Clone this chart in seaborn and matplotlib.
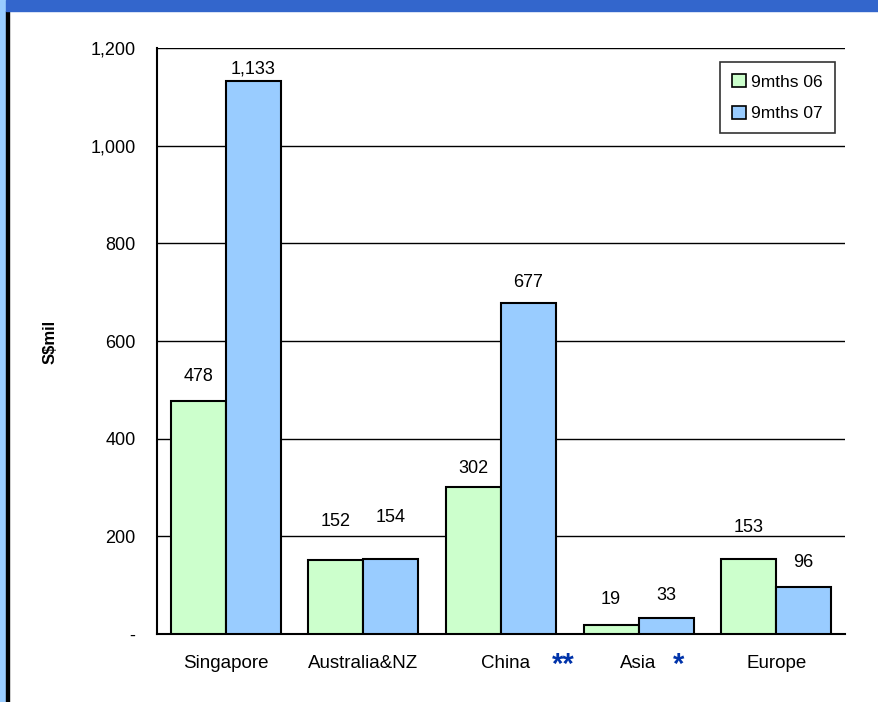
import numpy as np
import pandas as pd
import matplotlib
matplotlib.use("Agg")
import matplotlib.pyplot as plt
import seaborn as sns
from matplotlib.patches import Rectangle

# data
regions = ["Singapore", "Australia&NZ", "China", "Asia", "Europe"]
series = ["9mths 06", "9mths 07"]
vals_06 = [478, 152, 302, 19, 153]
vals_07 = [1133, 154, 677, 33, 96]
stars = ["", "", "**", "*", ""]
yticks = [0, 200, 400, 600, 800, 1000, 1200]
ytick_labels = ["-", "200", "400", "600", "800", "1,000", "1,200"]

df = pd.DataFrame({
    "region": regions * 2,
    "period": [series[0]] * 5 + [series[1]] * 5,
    "value": vals_06 + vals_07,
})

sns.set_style("white")
plt.rcParams["font.family"] = ["Liberation Sans", "DejaVu Sans"]
plt.rcParams["text.color"] = "black"
plt.rcParams["xtick.color"] = "black"
plt.rcParams["ytick.color"] = "black"
plt.rcParams["axes.labelcolor"] = "black"

fig = plt.figure(figsize=(8.79, 7.02), dpi=100)
# header bar and left border
fig.patches.append(Rectangle((0, 0), 6 / 879, 1, transform=fig.transFigure,
                             color="#99CCFF", zorder=0))
fig.patches.append(Rectangle((6 / 879, 0), 3 / 879, 1 - 11 / 702, transform=fig.transFigure,
                             color="black", zorder=0))
fig.patches.append(Rectangle((6 / 879, 1 - 11 / 702), 1, 11 / 702, transform=fig.transFigure,
                             color="#3366CC", zorder=0))

ax = fig.add_axes([157 / 879, 1 - 634 / 702, (845 - 157) / 879, (634 - 48) / 702])
sns.barplot(data=df, x="region", y="value", hue="period", order=regions,
            hue_order=series, palette=["#CCFFCC", "#99CCFF"], width=0.8,
            edgecolor="black", linewidth=1.5, saturation=1, ax=ax, zorder=3)

ax.set_ylim(0, 1200)
ax.set_xlim(-0.5, 4.5)
ax.set_yticks(yticks)
ax.set_yticklabels(ytick_labels, fontsize=13)
ax.yaxis.grid(True, color="black", linewidth=1)
ax.set_axisbelow(True)
for s in ["top", "right"]:
    ax.spines[s].set_visible(False)
for s in ["left", "bottom"]:
    ax.spines[s].set_linewidth(1.5)
    ax.spines[s].set_color("black")
ax.tick_params(axis="y", direction="inout", length=7, width=1.2, pad=12)

# x ticks at group boundaries
ax.set_xticks(np.arange(5))
ax.set_xticklabels([])
ax.tick_params(axis="x", which="major", length=0)
ax.set_xticks(np.arange(-0.5, 5, 1), minor=True)
ax.tick_params(axis="x", which="minor", direction="out", length=5, width=1.5)
ax.set_xlabel("")
ax.set_ylabel("S$mil", fontsize=12, fontweight="bold")
ax.yaxis.set_label_coords(-0.144, 0.498)

# category labels; China/Asia carry blue asterisks
text_shift = [0, 0, 0.03, 0, 0]
star_shift = [0, 0, 0.455, 0.29, 0]
for i, (r, st) in enumerate(zip(regions, stars)):
    ax.text(i + text_shift[i], -0.05, r, transform=ax.get_xaxis_transform(),
            ha="center", va="center", fontsize=13.5)
    if st:
        ax.text(i + star_shift[i], -0.052, st, transform=ax.get_xaxis_transform(),
                ha="center", va="center", fontsize=21, fontweight="bold", color="#0033AA")

# value labels, Excel-like offsets (px)
offsets_06 = [24, 38, 18, 25, 32]
offsets_07 = [12, 41, 21, 22, 25]
for cont, vals, offs in zip(ax.containers, [vals_06, vals_07], [offsets_06, offsets_07]):
    for bar, v, o in zip(cont, vals, offs):
        ax.annotate(f"{v:,}", (bar.get_x() + bar.get_width() / 2, v),
                    xytext=(0, o * 0.72), textcoords="offset points",
                    ha="center", va="center", fontsize=13)

leg = ax.legend(loc="upper right", bbox_to_anchor=(0.9855, 0.976), fontsize=12.5,
                frameon=True, fancybox=False, edgecolor="black",
                handlelength=0.8, handleheight=0.8, handletextpad=0.3,
                labelspacing=0.9, borderpad=0.7, borderaxespad=0)
leg.get_frame().set_linewidth(1.2)
for h in leg.legend_handles:
    h.set_edgecolor("black")
    h.set_linewidth(1.2)

fig.savefig("out.png", dpi=100)
